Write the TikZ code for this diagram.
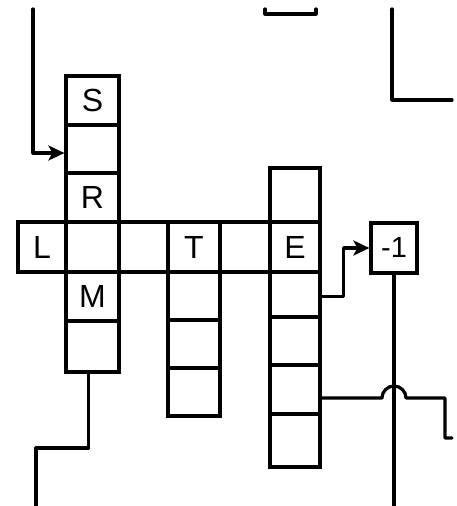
\documentclass[tikz,border=0pt]{standalone}
\usepackage{fontspec}
\newfontfamily\cellfont{Liberation Sans}
\usetikzlibrary{positioning, arrows.meta}

\begin{document}
\begin{tikzpicture}[x=1pt, y=-1pt,
    cell/.style = {rectangle, draw=black, line width=3.2pt, inner sep=0pt,
                   minimum width=50pt, minimum height=49pt,
                   font=\cellfont\fontsize{32}{38}\selectfont},
    wire/.style = {line width=3.2pt, line cap=round, line join=round},
    arr/.style  = {wire, -{Stealth[length=16pt, width=15pt, inset=4pt]}},
]

%% ---- Layout coordinates ----
\def\xS{92.5}
\def\xT{194}
\def\xE{295}
\def\yRow{247}

\useasboundingbox (0,0) rectangle (457,506);

%% ==================================================================
%% CELLS
%% ==================================================================

%% left column
\node[cell, minimum width=53pt] (s) at (\xS, 100.5) {S};
\node[cell, minimum width=53pt, minimum height=48pt] (sr) at (\xS, 149) {};
\node[cell, minimum width=53pt] (r) at (\xS, 197.5) {R};
\node[cell, minimum width=53pt, minimum height=50pt] (lr) at (\xS, \yRow) {};
\node[cell, minimum width=53pt] (m) at (\xS, 296.5) {M};
\node[cell, minimum width=53pt, minimum height=51pt] (mb) at (\xS, 346.5) {};

%% the row
\node[cell, minimum width=48pt, minimum height=50pt] (l) at (42, \yRow) {L};
\node[cell, minimum width=49pt, minimum height=50pt] (gap) at (143.5, \yRow) {};
\node[cell, minimum width=52pt, minimum height=50pt] (t) at (\xT, \yRow) {T};
\node[cell, minimum height=50pt] (te) at (245, \yRow) {};
\node[cell, minimum height=50pt] (e) at (\xE, \yRow) {E};

%% T column
\node[cell, minimum width=52pt, minimum height=48pt] (t1) at (\xT, 296) {};
\node[cell, minimum width=52pt, minimum height=48pt] (t2) at (\xT, 344) {};
\node[cell, minimum width=52pt, minimum height=48pt] (t3) at (\xT, 392) {};

%% E column
\node[cell, minimum height=54pt] (e0) at (\xE, 195) {};
\node[cell, minimum height=45pt] (e1) at (\xE, 294.5) {};
\node[cell, minimum height=48pt] (e2) at (\xE, 341) {};
\node[cell, minimum height=49pt] (e3) at (\xE, 389.5) {};
\node[cell, minimum height=53pt] (e4) at (\xE, 440.5) {};

%% the -1 box
\node[cell, minimum width=46pt, minimum height=50pt,
      font=\cellfont\fontsize{29}{34}\selectfont] (neg) at (394, 248) {-1};

%% ==================================================================
%% CONNECTIONS
%% ==================================================================

%% into the left column from above
\coordinate (topin) at (33, 9);
\draw[arr] (topin) |- ([yshift=-4pt]sr.west);

%% out of the left column, down and off
\coordinate (botl) at (36, 448);
\coordinate (botend) at (36, 506);
\draw[wire] ([xshift=-4pt]mb.south) |- (botl) -- (botend);

%% E column -> -1
\draw[arr] ([yshift=-2pt]e1.east) -- ++(22,0) |- (neg.west);

%% -1 down and off
\coordinate (negend) at (394, 506);
\draw[wire] (neg.south) -- (negend);

%% E column -> right, hopping over the -1 line
\coordinate (hopl) at (382, 398);
\coordinate (rt1) at (445, 398);
\coordinate (rtend) at (452, 438);
\draw[wire] (e3.east |- hopl) -- (hopl)
    arc[start angle=180, end angle=360, radius=12] -- (rt1) |- (rtend);

%% fragments at the top edge
\coordinate (boxl) at (265, 9);
\coordinate (boxr) at (316, 9);
\draw[wire] (boxl) -- ++(0,5) -| (boxr);

\coordinate (tr1) at (392, 9);
\coordinate (tr2) at (452, 100);
\draw[wire] (tr1) |- (tr2);

\end{tikzpicture}
\end{document}
